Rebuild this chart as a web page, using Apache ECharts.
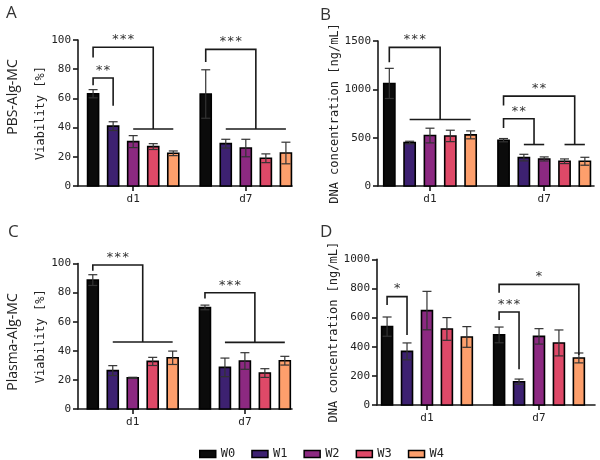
<!DOCTYPE html>
<html><head><meta charset="utf-8">
<script src="https://cdn.jsdelivr.net/npm/echarts@6/dist/echarts.min.js"></script>
<style>html,body{margin:0;padding:0;background:#fff}#c{width:600px;height:460px}</style>
</head><body><div id="c"></div>
<script>
// ---------- data ----------
const categories = ['d1', 'd7'];
const groups = ['W0', 'W1', 'W2', 'W3', 'W4'];
const yTicksViability = [0, 20, 40, 60, 80, 100];
const yTicksDnaPBS = [0, 500, 1000, 1500];
const yTicksDnaPlasma = [0, 200, 400, 600, 800, 1000];

// rows = W0..W4, columns = d1, d7
const viabilityPBS = [[63.2, 63.0], [41.0, 29.0], [30.4, 26.0], [27.0, 19.0], [22.4, 22.6]];
const viabilityPBSErr = [[2.8, 16.6], [3.0, 3.0], [4.1, 6.0], [2.0, 3.0], [1.6, 7.4]];
const dnaPBS = [[1061, 474], [449, 294], [522, 280], [518, 256], [529, 256]];
const dnaPBSErr = [[156, 17], [14, 34], [76, 21], [59, 24], [41, 41]];
const viabilityPlasma = [[88.6, 69.8], [26.4, 28.6], [21.4, 33.0], [32.7, 24.7], [35.2, 33.2]];
const viabilityPlasmaErr = [[3.7, 1.6], [3.4, 6.4], [0.4, 5.7], [2.8, 3.0], [4.6, 3.0]];
const dnaPlasma = [[538, 481], [368, 160], [648, 471], [522, 426], [467, 323]];
const dnaPlasmaErr = [[66, 54], [58, 18], [132, 53], [78, 89], [71, 34]];

// significance brackets: [group, leftBar, rightBar, top, leftEnd, rightEnd, lineFromBar, lineToBar, label]
const sigA = [
  [0, 0, 1, 74, 69, 55, -1, -1, '**'],
  [0, 0, 3, 95, 88, 39, 2, 4, '***'],
  [1, 0, 2.5, 93.6, 85, 39, 1, 4, '***']
];
const sigB = [
  [0, 0, 2.5, 1434, 1279, 688, 1, 4, '***'],
  [1, 0, 1.5, 695, 601, 429, 1, 2, '**'],
  [1, 0, 3.5, 930, 833, 429, 3, 4, '**']
];
const sigC = [
  [0, 0, 2.5, 99, 95, 46, 1, 4, '***'],
  [1, 0, 2.5, 79.9, 76, 45.8, 1, 4, '***']
];
const sigD = [
  [0, 0, 1, 744, 686, 480, -1, -1, '*'],
  [1, 0, 4, 828, 771, 343, -1, -1, '*'],
  [1, 0, 1, 638, 584, 245, -1, -1, '***']
];

// ---------- style / layout ----------
const colors = ['#0b0b0b', '#3d2171', '#8c2981', '#de4968', '#fd9f6c'];
const MONO = 'DejaVu Sans Mono';
const INK = '#1a1a1a';
const P = 0.178;   // bar pitch in axis units
const BW = 0.098;  // bar width in axis units

const panels = [
  {grid: {left: 78, top: 40, width: 214, height: 146}, xmin: -0.49, xmax: 1.41, ticks: yTicksViability,
   name: 'Viability [%]', nameGap: 30, vals: viabilityPBS, errs: viabilityPBSErr, sig: sigA},
  {grid: {left: 378, top: 41, width: 216, height: 145}, xmin: -0.455, xmax: 1.436, ticks: yTicksDnaPBS,
   name: 'DNA concentration [ng/mL]', nameGap: 36, vals: dnaPBS, errs: dnaPBSErr, sig: sigB},
  {grid: {left: 78, top: 263.5, width: 214, height: 145.5}, xmin: -0.488, xmax: 1.42, ticks: yTicksViability,
   name: 'Viability [%]', nameGap: 30, vals: viabilityPlasma, errs: viabilityPlasmaErr, sig: sigC},
  {grid: {left: 377, top: 259.3, width: 218, height: 145.7}, xmin: -0.446, xmax: 1.5, ticks: yTicksDnaPlasma,
   name: 'DNA concentration [ng/mL]', nameGap: 35, vals: dnaPlasma, errs: dnaPlasmaErr, sig: sigD}
];

function barRender(bi, color) {
  return function (params, api) {
    const g = api.value(0), v = api.value(1), e = api.value(2);
    const cx = g + (bi - 2) * P;
    const tl = api.coord([cx - BW / 2, v]);
    const br = api.coord([cx + BW / 2, 0]);
    const top = api.coord([cx, v + e]);
    const bot = api.coord([cx, v - e]);
    const cap = 4.5;
    const es = {stroke: '#333', lineWidth: 1.2};
    return {type: 'group', children: [
      {type: 'rect', shape: {x: tl[0], y: tl[1], width: br[0] - tl[0], height: br[1] - tl[1]},
       style: {fill: color, stroke: '#000', lineWidth: 1.6}},
      {type: 'line', shape: {x1: top[0], y1: top[1], x2: bot[0], y2: bot[1]}, style: es},
      {type: 'line', shape: {x1: top[0] - cap, y1: top[1], x2: top[0] + cap, y2: top[1]}, style: es},
      {type: 'line', shape: {x1: bot[0] - cap, y1: bot[1], x2: bot[0] + cap, y2: bot[1]}, style: es}
    ]};
  };
}

function sigRender(sig) {
  return function (params, api) {
    const s = sig[params.dataIndex];
    const bx = b => s[0] + (b - 2) * P;
    const L = api.coord([bx(s[1]), s[3]]), R = api.coord([bx(s[2]), s[3]]);
    const Lb = api.coord([bx(s[1]), s[4]]), Rb = api.coord([bx(s[2]), s[5]]);
    const ls = {stroke: INK, lineWidth: 1.6, fill: null};
    const children = [
      {type: 'polyline', shape: {points: [Lb, L, R, Rb]}, style: ls},
      {type: 'text', style: {text: s[8], x: (L[0] + R[0]) / 2, y: L[1] - 1, align: 'center',
        verticalAlign: 'bottom', font: '13px "' + MONO + '"', fill: '#333'}}
    ];
    if (s[6] >= 0) {
      const a = api.coord([bx(s[6]), s[5]]), b = api.coord([bx(s[7]), s[5]]);
      children.push({type: 'line', shape: {x1: a[0], y1: a[1], x2: b[0], y2: b[1]}, style: ls});
    }
    return {type: 'group', children};
  };
}

const grid = [], xAxis = [], yAxis = [], series = [];
panels.forEach((p, k) => {
  grid.push(p.grid);
  const axisLine = {show: true, onZero: false, lineStyle: {color: INK, width: 1.6}};
  xAxis.push({
    type: 'value', gridIndex: k, min: p.xmin, max: p.xmax,
    axisLine, splitLine: {show: false},
    axisTick: {show: true, customValues: [0, 1], length: 5, lineStyle: {color: INK, width: 1.6}},
    axisLabel: {customValues: [0, 1], formatter: v => categories[Math.round(v)] || '',
      fontFamily: MONO, fontSize: 11, color: '#222', margin: 8}
  });
  yAxis.push({
    type: 'value', gridIndex: k, min: p.ticks[0], max: p.ticks[p.ticks.length - 1],
    interval: p.ticks[1] - p.ticks[0],
    axisLine, splitLine: {show: false},
    axisTick: {show: true, length: 5, lineStyle: {color: INK, width: 1.6}},
    axisLabel: {formatter: v => String(v), fontFamily: MONO, fontSize: 11, color: '#222', margin: 7},
    name: p.name, nameLocation: 'middle', nameGap: p.nameGap, nameRotate: 90,
    nameTextStyle: {fontFamily: MONO, fontSize: 12, color: '#222'}
  });
  groups.forEach((g, bi) => {
    series.push({
      type: 'custom', name: g, xAxisIndex: k, yAxisIndex: k, clip: false,
      itemStyle: {color: colors[bi], borderColor: '#000', borderWidth: 1.5},
      renderItem: barRender(bi, colors[bi]),
      encode: {x: 0, y: 1},
      data: categories.map((c, gi) => [gi, p.vals[bi][gi], p.errs[bi][gi]])
    });
  });
  series.push({
    type: 'custom', name: 'sig' + k, xAxisIndex: k, yAxisIndex: k, clip: false, silent: true,
    renderItem: sigRender(p.sig), encode: {x: 0, y: 1},
    data: p.sig.map((s, i) => [s[0], s[3], i])
  });
});

const letterStyle = {fontFamily: 'Open Sans', fontWeight: 'normal', fontSize: 17, color: '#333'};
const option = {
  backgroundColor: '#fff',
  animation: false,
  title: [
    {text: 'A', left: 1, top: 0, textStyle: letterStyle},
    {text: 'B', left: 315, top: 2, textStyle: letterStyle},
    {text: 'C', left: 3, top: 219, textStyle: letterStyle},
    {text: 'D', left: 315, top: 219, textStyle: letterStyle}
  ],
  graphic: [
    {type: 'text', x: 13, y: 97, rotation: Math.PI / 2,
     style: {text: 'PBS-Alg-MC', align: 'center', verticalAlign: 'middle', font: '14px "Open Sans"', fill: '#222'}},
    {type: 'text', x: 13, y: 342, rotation: Math.PI / 2,
     style: {text: 'Plasma-Alg-MC', align: 'center', verticalAlign: 'middle', font: '14px "Open Sans"', fill: '#222'}}
  ],
  legend: {
    left: 194, top: 443, icon: 'rect', itemWidth: 16, itemHeight: 7, itemGap: 16, itemStyle: {borderColor: '#000', borderWidth: 1.5},
    textStyle: {fontFamily: MONO, fontSize: 12, color: '#222'},
    data: groups.map((g, i) => ({name: g, itemStyle: {color: colors[i], borderColor: '#000', borderWidth: 1.5}}))
  },
  grid, xAxis, yAxis, series
};
const chart = echarts.init(document.getElementById('c'), null, {renderer: 'canvas'});
chart.setOption(option);
</script></body></html>
